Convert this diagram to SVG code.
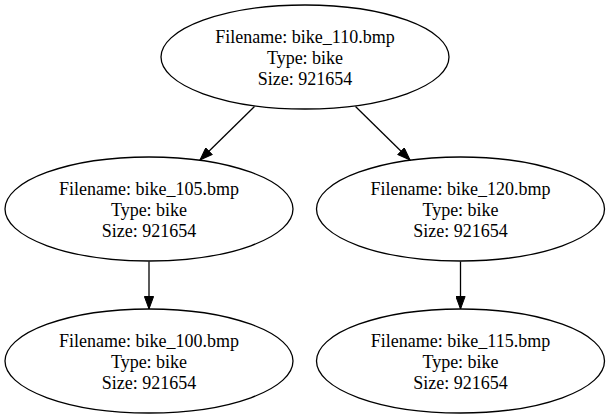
<svg xmlns="http://www.w3.org/2000/svg" width="610" height="419" viewBox="0 0 610 419">
<defs>
<style>
.node ellipse{fill:none;stroke:#000;stroke-width:1.3}
.node text{font-family:"Liberation Serif","Times New Roman",serif;font-size:18px;fill:#000;text-anchor:middle}
.edge{fill:none;stroke:#000;stroke-width:1.3}
</style>
<marker id="arrow" viewBox="0 0 14 10" refX="13" refY="5" markerWidth="14" markerHeight="10" markerUnits="userSpaceOnUse" orient="auto">
<path d="M0.5,0.4 L13,5 L0.5,9.6 z" fill="#000" stroke="#000" stroke-width="1"/>
</marker>
</defs>
<rect width="610" height="419" fill="#fff"/>
<g id="edges">
<path class="edge" d="M254.5,106.5 L200,160" marker-end="url(#arrow)"/>
<path class="edge" d="M355.5,106.5 L410,160" marker-end="url(#arrow)"/>
<path class="edge" d="M149,261.5 L149,309" marker-end="url(#arrow)"/>
<path class="edge" d="M460.5,261.5 L460.5,309" marker-end="url(#arrow)"/>
</g>
<g id="node_bike_110" class="node">
<ellipse cx="305" cy="57" rx="144" ry="52"/>
<text x="305" y="42.7">Filename: bike_110.bmp</text>
<text x="305" y="64">Type: bike</text>
<text x="305" y="85">Size: 921654</text>
</g>
<g id="node_bike_105" class="node">
<ellipse cx="149" cy="209" rx="144" ry="52"/>
<text x="149" y="194.7">Filename: bike_105.bmp</text>
<text x="149" y="216">Type: bike</text>
<text x="149" y="237">Size: 921654</text>
</g>
<g id="node_bike_120" class="node">
<ellipse cx="460.5" cy="209" rx="144" ry="52"/>
<text x="460.5" y="194.7">Filename: bike_120.bmp</text>
<text x="460.5" y="216">Type: bike</text>
<text x="460.5" y="237">Size: 921654</text>
</g>
<g id="node_bike_100" class="node">
<ellipse cx="149" cy="361" rx="144" ry="52"/>
<text x="149" y="346.7">Filename: bike_100.bmp</text>
<text x="149" y="368">Type: bike</text>
<text x="149" y="389">Size: 921654</text>
</g>
<g id="node_bike_115" class="node">
<ellipse cx="460.5" cy="361" rx="144" ry="52"/>
<text x="460.5" y="346.7">Filename: bike_115.bmp</text>
<text x="460.5" y="368">Type: bike</text>
<text x="460.5" y="389">Size: 921654</text>
</g>
</svg>
